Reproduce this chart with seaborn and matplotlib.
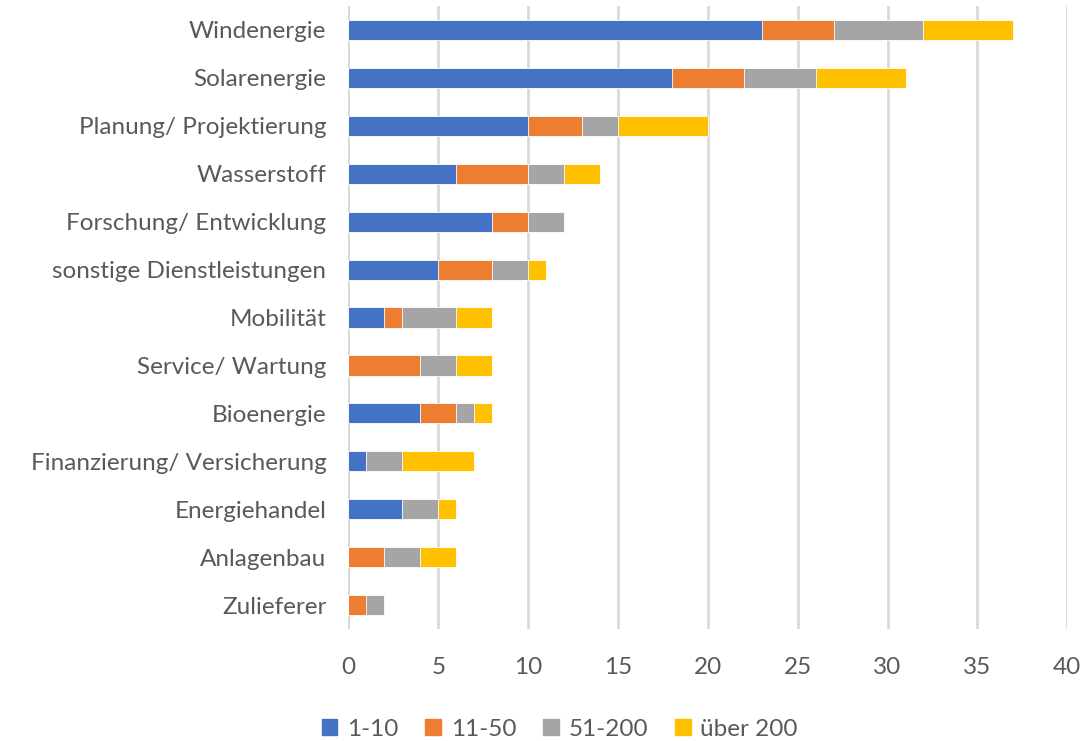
import pandas as pd
import numpy as np
import matplotlib.pyplot as plt
import seaborn as sns

# Branchen und Anzahl Unternehmen je Größenklasse (Mitarbeitende)
branchen = ['Windenergie', 'Solarenergie', 'Planung/ Projektierung', 'Wasserstoff',
            'Forschung/ Entwicklung', 'sonstige Dienstleistungen', 'Mobilität',
            'Service/ Wartung', 'Bioenergie', 'Finanzierung/ Versicherung',
            'Energiehandel', 'Anlagenbau', 'Zulieferer']
g_1_10 = [23, 18, 10, 6, 8, 5, 2, 0, 4, 1, 3, 0, 0]
g_11_50 = [4, 4, 3, 4, 2, 3, 1, 4, 2, 0, 0, 2, 1]
g_51_200 = [5, 4, 2, 2, 2, 2, 3, 2, 1, 2, 2, 2, 1]
g_200_plus = [5, 5, 5, 2, 0, 1, 2, 2, 1, 4, 1, 2, 0]

gruppen = ['1-10', '11-50', '51-200', 'über 200']
farben = ['#4472C4', '#ED7D31', '#A5A5A5', '#FFC000']

df = pd.DataFrame({'Branche': branchen, '1-10': g_1_10, '11-50': g_11_50,
                   '51-200': g_51_200, 'über 200': g_200_plus})
cum = df[gruppen].cumsum(axis=1)

sns.set_style('white')
plt.rcParams['font.family'] = ['Lato', 'DejaVu Sans']
textfarbe = '#595959'
fs = 17.5

fig = plt.figure(figsize=(10.89, 7.41), dpi=100)
ax = fig.add_axes([0.32, 0.151, 0.66, 0.841])

# gestapelt: kumulierte Summen von hinten nach vorne zeichnen
for g, c in reversed(list(zip(gruppen, farben))):
    sns.barplot(x=cum[g], y=df['Branche'], color=c, orient='h', width=0.42,
                edgecolor='white', linewidth=0.6, saturation=1, ax=ax, zorder=3)

ax.set_xlim(0, 40)
ax.set_ylim(12.5, -0.5)
ax.set_xticks(range(0, 41, 5))
ax.xaxis.grid(True, color='#D9D9D9', linewidth=2, zorder=0)
ax.set_axisbelow(True)
for s in ax.spines.values():
    s.set_visible(False)
ax.axvline(0, color='#D9D9D9', linewidth=2, zorder=1)
ax.tick_params(axis='both', length=0, labelsize=fs, labelcolor=textfarbe)
ax.tick_params(axis='x', pad=20)
ax.tick_params(axis='y', pad=16)
ax.set_xlabel('')
ax.set_ylabel('')

handles = [plt.Rectangle((0, 0), 1, 1, color=c) for c in farben]
fig.legend(handles, gruppen, loc='center', bbox_to_anchor=(0.514, 0.016), ncol=4,
           frameon=False, fontsize=fs, labelcolor=textfarbe, handlelength=0.65,
           handleheight=0.65, handletextpad=0.4, columnspacing=1.1)

fig.savefig('out.png', dpi=100)
